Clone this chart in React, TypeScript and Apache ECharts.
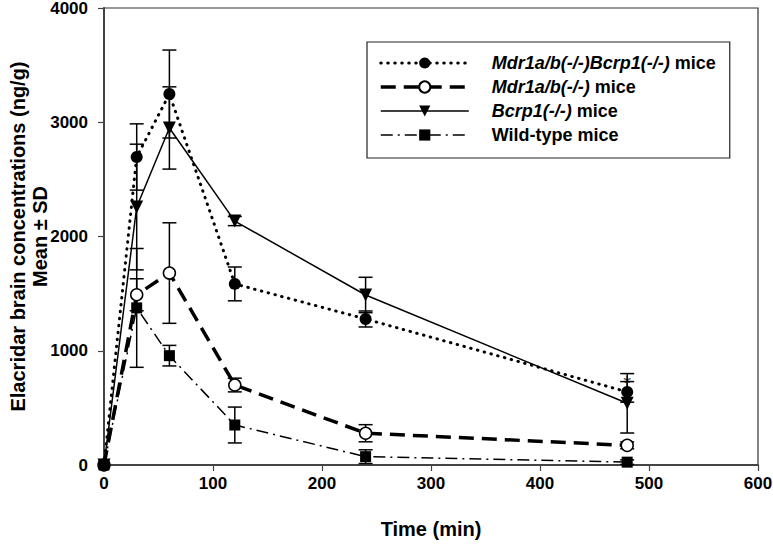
import React, { useEffect, useRef } from "react";
import * as echarts from "echarts";

const times = [0, 30, 60, 120, 240, 480];
const seriesNames = [
  "Mdr1a/b(-/-)Bcrp1(-/-) mice",
  "Mdr1a/b(-/-) mice",
  "Bcrp1(-/-) mice",
  "Wild-type mice",
];
const dkoMean = [0, 2696, 3247, 1585, 1278, 640];
const dkoSD = [0, 290, 385, 148, 70, 90];
const mdrMean = [0, 1490, 1680, 700, 278, 172];
const mdrSD = [0, 140, 440, 60, 75, 30];
const bcrpMean = [0, 2258, 2950, 2135, 1488, 540];
const bcrpSD = [0, 550, 360, 40, 155, 260];
const wtMean = [0, 1375, 957, 350, 73, 25];
const wtSD = [0, 520, 90, 157, 60, 20];
const xTicks = [0, 100, 200, 300, 400, 500, 600];
const yTicks = [0, 1000, 2000, 3000, 4000];
const starPoint = [480, 720];

const FONT = "Arial, 'Liberation Sans', Helvetica, sans-serif";

function pts(mean: number[]) {
  return times.map((t, i) => [t, mean[i]]);
}
function errs(mean: number[], sd: number[]) {
  return times
    .map((t, i) => [t, Math.max(0, mean[i] - sd[i]), mean[i] + sd[i]])
    .filter((d, i) => sd[i] > 0);
}

const lineStyles: any[] = [
  { color: "#000", width: 3, type: [0.5, 6.5], cap: "round" },
  { color: "#000", width: 3.5, type: [15, 8] },
  { color: "#000", width: 1.5, type: "solid" },
  { color: "#000", width: 1.5, type: [12, 5, 2, 5] },
];

export default function App() {
  const ref = useRef<HTMLDivElement>(null);
  useEffect(() => {
    if (!ref.current) return;
    const chart = echarts.init(ref.current, null, { renderer: "svg" });

    const errSeries = (mean: number[], sd: number[]) => ({
      type: "custom",
      silent: true,
      z: 1,
      data: errs(mean, sd),
      encode: { x: 0, y: [1, 2] },
      renderItem: (params: any, api: any) => {
        const x = api.value(0);
        const lo = api.value(1);
        const hi = api.value(2);
        const pHi = api.coord([x, hi]);
        const pLo = api.coord([x, lo]);
        const w = 7;
        const st = { stroke: "#000", lineWidth: 1.5 };
        return {
          type: "group",
          children: [
            { type: "line", shape: { x1: pHi[0], y1: pHi[1], x2: pLo[0], y2: pLo[1] }, style: st },
            { type: "line", shape: { x1: pHi[0] - w, y1: pHi[1], x2: pHi[0] + w, y2: pHi[1] }, style: st },
            { type: "line", shape: { x1: pLo[0] - w, y1: pLo[1], x2: pLo[0] + w, y2: pLo[1] }, style: st },
          ],
        };
      },
    });

    const italicPart = (name: string) => {
      const idx = name.indexOf(" mice");
      const gene = name.slice(0, idx);
      if (gene === "Wild-type") return `{b|${name}}`;
      return `{i|${gene}}{b| mice}`;
    };

    const richBase = { fontFamily: FONT, fontSize: 18, fontWeight: "bold", color: "#000", lineHeight: 18 };

    chart.setOption({
      animation: false,
      backgroundColor: "#fff",
      grid: {
        left: 104,
        right: 15,
        top: 8,
        bottom: 80,
        containLabel: false,
        outerBoundsMode: "none",
        show: true,
        borderColor: "#333",
        borderWidth: 1.2,
      },
      legend: {
        data: seriesNames.map((n, i) => ({ name: n, lineStyle: lineStyles[i] })),
        orient: "vertical",
        left: 367,
        top: 42,
        itemWidth: 88,
        itemHeight: 14,
        itemGap: 6,
        padding: [12, 14, 14, 12],
        borderColor: "#222",
        borderWidth: 1.2,
        backgroundColor: "#fff",
        selectedMode: false,
        formatter: (name: string) => italicPart(name),
        textStyle: {
          padding: [0, 0, 0, 18],
          rich: {
            i: { ...richBase, fontStyle: "italic" },
            b: { ...richBase },
          },
        },
      },
      xAxis: {
        type: "value",
        min: 0,
        max: 600,
        interval: 100,
        name: "Time (min)",
        nameLocation: "middle",
        nameGap: 54,
        nameMoveOverlap: false,
        nameTextStyle: { fontFamily: FONT, fontSize: 20, fontWeight: "bold", color: "#000" },
        axisLine: { show: true, lineStyle: { color: "#444", width: 2 } },
        axisTick: { show: true, inside: false, length: 6, lineStyle: { color: "#444", width: 1.2 } },
        axisLabel: {
          fontFamily: FONT,
          fontSize: 17,
          fontWeight: "bold",
          color: "#000",
          margin: 10,
          formatter: (v: number) => (xTicks.includes(v) ? String(v) : ""),
        },
        splitLine: { show: false },
      },
      yAxis: {
        type: "value",
        min: 0,
        max: 4000,
        interval: 1000,
        name: "Elacridar brain concentrations (ng/g)\nMean ± SD",
        nameLocation: "middle",
        nameGap: 53,
        nameMoveOverlap: false,
        nameTextStyle: {
          fontFamily: FONT,
          fontSize: 20,
          fontWeight: "bold",
          color: "#000",
          lineHeight: 22,
          align: "center",
        },
        axisLine: { show: true, lineStyle: { color: "#444", width: 2 } },
        axisTick: { show: true, inside: false, length: 6, lineStyle: { color: "#444", width: 1.2 } },
        axisLabel: {
          fontFamily: FONT,
          fontSize: 17,
          fontWeight: "bold",
          color: "#000",
          margin: 16,
          formatter: (v: number) => (yTicks.includes(v) ? String(v) : ""),
        },
        splitLine: { show: false },
      },
      series: [
        errSeries(dkoMean, dkoSD),
        errSeries(mdrMean, mdrSD),
        errSeries(bcrpMean, bcrpSD),
        errSeries(wtMean, wtSD),
        {
          name: seriesNames[0],
          type: "line",
          z: 3,
          data: pts(dkoMean),
          symbol: "circle",
          symbolSize: 12,
          itemStyle: { color: "#000" },
          lineStyle: lineStyles[0],
        },
        {
          name: seriesNames[1],
          type: "line",
          z: 3,
          data: pts(mdrMean),
          symbol: "circle",
          symbolSize: 12,
          itemStyle: { color: "#fff", borderColor: "#000", borderWidth: 1.5 },
          lineStyle: lineStyles[1],
        },
        {
          name: seriesNames[2],
          type: "line",
          z: 3,
          data: pts(bcrpMean),
          symbol: "triangle",
          symbolRotate: 180,
          symbolSize: 13,
          itemStyle: { color: "#000" },
          lineStyle: lineStyles[2],
        },
        {
          name: seriesNames[3],
          type: "line",
          z: 3,
          data: pts(wtMean),
          symbol: "rect",
          symbolSize: 11,
          itemStyle: { color: "#000" },
          lineStyle: lineStyles[3],
        },
        {
          type: "scatter",
          silent: true,
          z: 4,
          data: [starPoint],
          symbolSize: 0,
          label: {
            show: true,
            formatter: "*",
            position: "inside",
            fontFamily: FONT,
            fontSize: 20,
            color: "#000",
          },
        },
      ],
    });
    return () => chart.dispose();
  }, []);
  return (
    <div
      ref={ref}
      style={{ position: "fixed", left: 0, top: 0, width: 773, height: 545, background: "#fff" }}
    />
  );
}
